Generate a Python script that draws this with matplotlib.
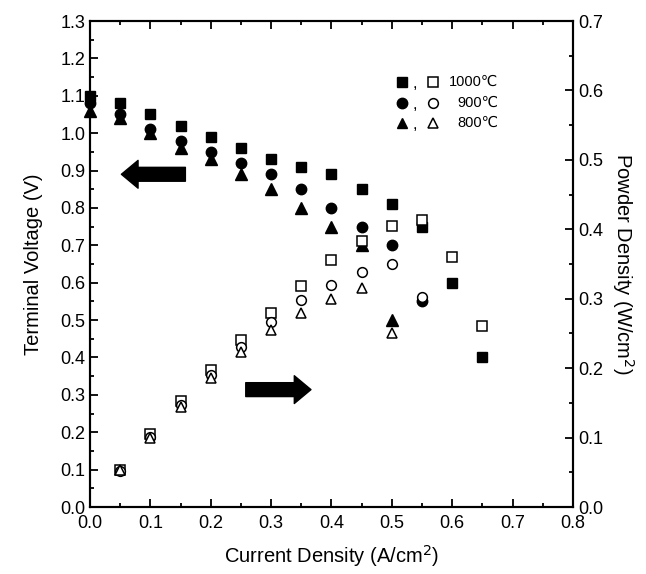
# Fuel cell performance: terminal voltage (left) and power density (right)
import matplotlib
matplotlib.use('Agg')
import matplotlib.pyplot as plt
from matplotlib.ticker import MultipleLocator

plt.rcParams['font.family'] = ['Liberation Sans', 'DejaVu Sans']

# Current density (A/cm2)
i_1000 = [0.0, 0.05, 0.10, 0.15, 0.20, 0.25, 0.30, 0.35, 0.40, 0.45, 0.50, 0.55, 0.60, 0.65]
i_900 = [0.0, 0.05, 0.10, 0.15, 0.20, 0.25, 0.30, 0.35, 0.40, 0.45, 0.50, 0.55]
i_800 = [0.0, 0.05, 0.10, 0.15, 0.20, 0.25, 0.30, 0.35, 0.40, 0.45, 0.50]

# Terminal voltage (V)
v_1000 = [1.10, 1.08, 1.05, 1.02, 0.99, 0.96, 0.93, 0.91, 0.89, 0.85, 0.81, 0.75, 0.60, 0.40]
v_900 = [1.08, 1.05, 1.01, 0.98, 0.95, 0.92, 0.89, 0.85, 0.80, 0.75, 0.70, 0.55]
v_800 = [1.06, 1.04, 1.00, 0.96, 0.93, 0.89, 0.85, 0.80, 0.75, 0.70, 0.50]

# Power density (W/cm2), no point at zero current
p_1000 = [0.054, 0.105, 0.153, 0.198, 0.240, 0.279, 0.319, 0.356, 0.383, 0.405, 0.413, 0.360, 0.260]
p_900 = [0.052, 0.101, 0.147, 0.190, 0.230, 0.267, 0.298, 0.320, 0.338, 0.350, 0.303]
p_800 = [0.053, 0.100, 0.144, 0.186, 0.223, 0.255, 0.280, 0.300, 0.315, 0.250]

legend_labels = ['1000\u2103', '900\u2103', '800\u2103']

fig = plt.figure(figsize=(6.46, 5.74), dpi=100)
ax = fig.add_axes([0.1393, 0.1167, 0.7477, 0.8467])
ax2 = ax.twinx()

ms = 7
ax.plot(i_1000, v_1000, 's', color='black', ms=ms, clip_on=False)
ax.plot(i_900, v_900, 'o', color='black', ms=ms + 0.5, clip_on=False)
ax.plot(i_800, v_800, '^', color='black', ms=ms + 1, clip_on=False)

ax2.plot(i_1000[1:], p_1000, 's', mfc='white', mec='black', mew=1.1, ms=ms - 0.5)
ax2.plot(i_900[1:], p_900, 'o', mfc='white', mec='black', mew=1.1, ms=ms)
ax2.plot(i_800[1:], p_800, '^', mfc='white', mec='black', mew=1.1, ms=ms + 0.5)

ax.set_xlim(0, 0.8)
ax.set_ylim(0, 1.3)
ax2.set_ylim(0, 0.7)

ax.xaxis.set_major_locator(MultipleLocator(0.1))
ax.xaxis.set_minor_locator(MultipleLocator(0.05))
ax.yaxis.set_major_locator(MultipleLocator(0.1))
ax.yaxis.set_minor_locator(MultipleLocator(0.05))
ax2.yaxis.set_major_locator(MultipleLocator(0.1))
ax2.yaxis.set_minor_locator(MultipleLocator(0.05))

ax.xaxis.set_major_formatter(lambda v, p: f'{v:.1f}')
ax.yaxis.set_major_formatter(lambda v, p: f'{v:.1f}')
ax2.yaxis.set_major_formatter(lambda v, p: f'{v:.1f}')

ax.tick_params(which='both', direction='in', top=True, right=False, labelsize=13, width=1.3)
ax.tick_params(which='major', length=6)
ax.tick_params(which='minor', length=3)
ax.tick_params(axis='x', pad=6)
ax2.tick_params(which='both', direction='in', labelsize=13, width=1.3)
ax2.tick_params(which='major', length=6)
ax2.tick_params(which='minor', length=3)

for a in (ax, ax2):
    for s in a.spines.values():
        s.set_linewidth(1.5)

ax.set_xlabel('Current Density (A/cm$^2$)', fontsize=14.5, labelpad=8)
ax.set_ylabel('Terminal Voltage (V)', fontsize=14.5, labelpad=12)
ax2.set_ylabel('Powder Density (W/cm$^2$)', fontsize=14.5, rotation=270, labelpad=24)

# Arrows pointing to the relevant axes
ax.annotate('', xy=(0.052, 0.89), xytext=(0.158, 0.89),
            arrowprops=dict(facecolor='black', edgecolor='black', width=10, headwidth=20, headlength=12))
ax.annotate('', xy=(0.366, 0.314), xytext=(0.258, 0.314),
            arrowprops=dict(facecolor='black', edgecolor='black', width=10, headwidth=20, headlength=12))

# Legend drawn by hand: filled, open marker and label
leg_y = [0.874, 0.831, 0.790]
leg_m = ['s', 'o', '^']
for y, m, lab in zip(leg_y, leg_m, legend_labels):
    ax.plot([0.646], [y], m, color='black', ms=ms + 0.5, transform=ax.transAxes)
    ax.text(0.668, y - 0.012, ',', transform=ax.transAxes, fontsize=12, va='baseline')
    ax.plot([0.71], [y], m, mfc='white', mec='black', mew=1.1, ms=ms, transform=ax.transAxes)
    ax.text(0.845, y, lab, transform=ax.transAxes, fontsize=10.5, va='center', ha='right')

fig.savefig('out.png', dpi=100)
